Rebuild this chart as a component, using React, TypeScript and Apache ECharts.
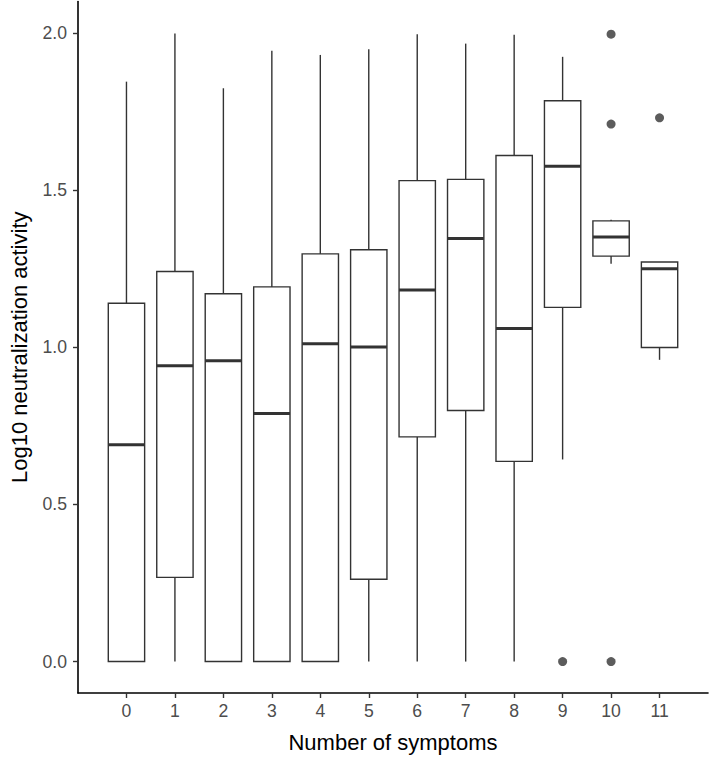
import React, { useEffect, useRef } from "react";
import * as echarts from "echarts";

const categories = ["0", "1", "2", "3", "4", "5", "6", "7", "8", "9", "10", "11"];
const whiskerLow = [0, 0, 0, 0, 0, 0, 0, 0, 0, 0.643, 1.266, 0.96];
const q1 = [0, 0.268, 0, 0, 0, 0.262, 0.715, 0.799, 0.637, 1.127, 1.29, 0.999];
const median = [0.69, 0.941, 0.957, 0.789, 1.011, 1.001, 1.182, 1.346, 1.06, 1.576, 1.351, 1.25];
const q3 = [1.14, 1.241, 1.17, 1.192, 1.297, 1.31, 1.53, 1.534, 1.61, 1.784, 1.402, 1.271];
const whiskerHigh = [1.845, 1.998, 1.824, 1.943, 1.93, 1.948, 1.996, 1.966, 1.994, 1.924, 1.406, 1.271];
const outlierCategory = [9, 10, 10, 10, 11];
const outlierValue = [0, 1.996, 1.71, 0, 1.73];
const yTicks = [0, 0.5, 1, 1.5, 2];

const FONT = "'Liberation Sans', Arial, Helvetica, sans-serif";
const STROKE = "#333333";
const BOX_WIDTH = 0.75;

export default function App() {
  const ref = useRef<HTMLDivElement>(null);
  useEffect(() => {
    if (!ref.current) return;
    const chart = echarts.init(ref.current, undefined, { renderer: "svg" });
    const boxData = categories.map((_, i) => [i, whiskerLow[i], q1[i], median[i], q3[i], whiskerHigh[i]]);
    const outData = outlierCategory.map((c, i) => [c, outlierValue[i]]);
    const xIdx = categories.map((_, i) => i);
    chart.setOption({
      animation: false,
      backgroundColor: "#ffffff",
      grid: { left: 73, right: 2, top: 1.5, bottom: 65, containLabel: false },
      xAxis: {
        type: "value",
        min: -1,
        max: 12,
        splitLine: { show: false },
        axisLine: { show: true, onZero: false, lineStyle: { color: "#000000", width: 1.6 } },
        axisTick: { show: true, customValues: xIdx, length: 5, lineStyle: { color: STROKE, width: 1.4 } },
        axisLabel: {
          customValues: xIdx,
          formatter: (v: number) => categories[Math.round(v)] ?? "",
          color: "#4D4D4D",
          fontSize: 17.6,
          fontFamily: FONT,
          margin: 9,
        },
        name: "Number of symptoms",
        nameLocation: "middle",
        nameGap: 38,
        nameTextStyle: { color: "#000000", fontSize: 22, fontFamily: FONT },
      },
      yAxis: {
        type: "value",
        min: -0.1,
        max: 2.1,
        splitLine: { show: false },
        axisLine: { show: true, onZero: false, lineStyle: { color: "#000000", width: 1.6 } },
        axisTick: { show: true, customValues: yTicks, length: 5, lineStyle: { color: STROKE, width: 1.4 } },
        axisLabel: {
          customValues: yTicks,
          formatter: (v: number) => v.toFixed(1),
          color: "#4D4D4D",
          fontSize: 17.6,
          fontFamily: FONT,
          margin: 11,
        },
        name: "Log10 neutralization activity",
        nameLocation: "middle",
        nameRotate: 90,
        nameGap: 48,
        nameTextStyle: { color: "#000000", fontSize: 22, fontFamily: FONT },
      },
      series: [
        {
          type: "custom",
          data: boxData,
          encode: { x: 0, y: [1, 2, 3, 4, 5] },
          renderItem: (params: any, api: any) => {
            const x = api.value(0);
            const lo = api.coord([x, api.value(1)]);
            const a = api.coord([x, api.value(2)]);
            const m = api.coord([x, api.value(3)]);
            const b = api.coord([x, api.value(4)]);
            const hi = api.coord([x, api.value(5)]);
            const half = api.size([BOX_WIDTH, 0])[0] / 2;
            const ls = { stroke: STROKE, lineWidth: 1.4, fill: null };
            return {
              type: "group",
              children: [
                { type: "line", shape: { x1: hi[0], y1: hi[1], x2: b[0], y2: b[1] }, style: ls },
                { type: "line", shape: { x1: a[0], y1: a[1], x2: lo[0], y2: lo[1] }, style: ls },
                {
                  type: "rect",
                  shape: { x: b[0] - half, y: b[1], width: half * 2, height: a[1] - b[1] },
                  style: { fill: "#ffffff", stroke: STROKE, lineWidth: 1.4 },
                },
                {
                  type: "line",
                  shape: { x1: m[0] - half, y1: m[1], x2: m[0] + half, y2: m[1] },
                  style: { stroke: STROKE, lineWidth: 3 },
                },
              ],
            };
          },
        },
        {
          type: "scatter",
          data: outData,
          symbol: "circle",
          symbolSize: 9,
          itemStyle: { color: STROKE },
        },
      ],
    });
    return () => chart.dispose();
  }, []);
  return (
    <div
      ref={ref}
      style={{ position: "fixed", left: 0, top: 0, width: 710, height: 758, background: "#fff" }}
    />
  );
}
